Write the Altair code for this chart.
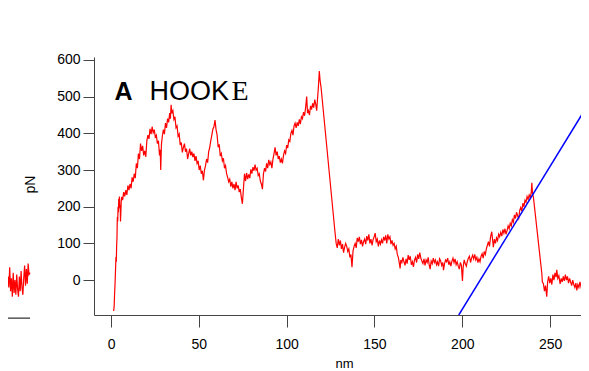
import altair as alt
import pandas as pd

# ---- data ----
extension_nm = [
    1.5, 1.8, 2.0, 2.3, 2.5, 2.8, 3.0, 3.2, 3.4, 3.5, 3.6, 3.8, 4.0, 4.2, 4.4, 4.6, 4.8, 5.0, 5.2, 5.4, 5.6, 5.8, 6.1,
    6.6, 7.2, 7.8, 8.4, 9.0, 9.6, 10.2, 10.8, 11.4, 12.0, 12.6, 13.2, 13.8, 14.4, 15.0, 15.6, 16.2, 16.8, 17.4, 18.0,
    18.6, 19.2, 19.8, 20.4, 21.0, 21.6, 22.2, 22.8, 23.4, 24.0, 24.6, 25.2, 25.8, 26.4, 27.0, 27.6, 28.0, 28.3, 28.7,
    29.2, 29.8, 30.4, 31.0, 31.6, 32.2, 32.8, 33.4, 33.8, 34.2, 34.6, 35.2, 35.8, 36.4, 37.0, 37.6, 38.2, 38.8, 39.4,
    40.0, 40.6, 41.2, 41.8, 42.4, 43.0, 43.6, 44.2, 44.8, 45.4, 46.0, 46.6, 47.2, 47.8, 48.4, 49.0, 49.6, 50.2, 50.8,
    51.4, 52.0, 52.6, 53.2, 53.8, 54.4, 55.0, 55.6, 56.2, 56.8, 57.4, 58.0, 58.6, 59.2, 59.8, 60.4, 61.0, 61.6, 62.2,
    62.8, 63.4, 64.0, 64.6, 65.2, 65.8, 66.4, 67.0, 67.6, 68.2, 68.8, 69.4, 70.0, 70.6, 71.2, 71.8, 72.4, 73.0, 73.6,
    74.2, 74.8, 75.4, 76.0, 76.6, 77.2, 77.8, 78.4, 79.0, 79.6, 80.2, 80.8, 81.4, 82.0, 82.6, 83.2, 83.8, 84.4, 85.0,
    85.6, 86.2, 86.8, 87.4, 88.0, 88.6, 89.2, 89.8, 90.4, 91.0, 91.6, 92.2, 92.8, 93.4, 94.0, 94.6, 95.2, 95.8, 96.4,
    97.0, 97.6, 98.2, 98.8, 99.4, 100.0, 100.6, 101.2, 101.8, 102.4, 103.0, 103.6, 104.2, 104.8, 105.4, 106.0, 106.6,
    107.2, 107.8, 108.4, 109.0, 109.6, 110.2, 110.8, 111.4, 111.9, 112.4, 113.0, 113.6, 114.2, 114.8, 115.4, 116.0,
    116.6, 117.1, 117.6, 118.1, 118.6, 119.0, 119.6,
    127.6, 128.2, 128.8, 129.4, 130.0, 130.6, 131.2, 131.8, 132.4, 133.0, 133.6, 134.2, 134.8, 135.4, 136.0, 136.6,
    137.2, 137.8, 138.4, 139.0, 139.6, 140.2, 140.8, 141.4, 142.0, 142.6, 143.2, 143.8, 144.4, 145.0, 145.6, 146.2,
    146.8, 147.4, 148.0, 148.6, 149.2, 149.8, 150.4, 151.0, 151.6, 152.2, 152.8, 153.4, 154.0, 154.6, 155.2, 155.8,
    156.4, 157.0, 157.6, 158.2, 158.8, 159.4, 160.0, 160.6, 161.2, 161.8, 162.4, 163.0, 163.6, 164.2, 164.6, 165.0,
    165.6, 166.2, 166.8, 167.4, 168.0, 168.6, 169.2, 169.8, 170.4, 171.0, 171.6, 172.2, 172.8, 173.4, 174.0, 174.6,
    175.2, 175.8, 176.4, 177.0, 177.6, 178.2, 178.8, 179.4, 180.0, 180.6, 181.2, 181.7, 182.3, 182.9, 183.5, 184.1,
    184.7, 185.3, 185.9, 186.5, 187.1, 187.7, 188.3, 188.9, 189.3, 189.9, 190.5, 191.1, 191.7, 192.3, 192.9, 193.5,
    194.1, 194.7, 195.3, 195.9, 196.5, 197.1, 197.7, 198.3, 198.9, 199.5, 200.1, 200.5, 201.1, 201.7, 202.3, 202.9,
    203.5, 204.1, 204.7, 205.3, 205.9, 206.5, 207.1, 207.7, 208.3, 208.9, 209.5, 210.1, 210.7, 211.3, 211.9, 212.5,
    213.1, 213.7, 214.3, 214.9, 215.5, 216.1, 216.8, 217.3, 217.7, 218.3, 218.9, 219.5, 220.1, 220.7, 221.3, 221.9,
    222.5, 223.1, 223.7, 224.3, 224.9, 225.5, 226.1, 226.7, 227.3, 227.9, 228.5, 229.1, 229.7, 230.3, 230.9, 231.5,
    232.1, 232.7, 233.3, 233.9, 234.5, 235.1, 235.7, 236.3, 236.9, 237.5, 238.1, 238.7, 239.3, 239.6, 240.0, 240.5,
    245.3, 245.6, 246.2, 246.8, 247.4, 248.1, 248.6, 249.2, 249.8, 250.4, 251.0, 251.6, 252.2, 252.8, 253.4, 253.8,
    254.4, 255.0, 255.7, 256.3, 256.9, 257.5, 258.1, 258.7, 259.3, 259.9, 260.5, 261.1, 261.7, 262.3, 262.9, 263.5,
    264.1, 264.7, 265.2, 265.8, 266.4, 267.0, 267.6, 268.2, 268.8, 269.4, 270.0, 270.6, 271.2, 271.8, 272.4,
]
force_pN = [
    -84, -70, -40, -8, 20, 63, 50, 95, 117, 150, 172, 160, 200, 185, 222, 210, 228, 195, 205, 160, 185, 215, 227,
    218, 240, 228, 245, 232, 258, 245, 262, 250, 280, 268, 290, 278, 318, 305, 345, 330, 372, 352, 366,
    340, 352, 336, 380, 395, 385, 412, 398, 418, 402, 410, 390, 395, 372, 380, 340, 355, 300, 370,
    392, 410, 398, 428, 415, 440, 430, 455, 440, 478, 455, 462, 438, 445, 415, 420, 392, 398, 368,
    375, 348, 362, 372, 350, 358, 330, 345, 358, 340, 350, 335, 345, 325, 338, 318, 325, 300, 312,
    290, 298, 272, 300, 312, 330, 320, 350, 362, 380, 395, 412, 418, 436, 410, 395, 362, 370, 338,
    345, 325, 332, 305, 312, 290, 280, 268, 275, 255, 268, 250, 262, 245, 268, 250, 258, 240, 248,
    225, 208, 250, 290, 270, 292, 275, 288, 278, 302, 290, 308, 298, 315, 300, 305, 285, 290, 270,
    262, 248, 290, 305, 296, 318, 305, 328, 315, 322, 305, 330, 345, 362, 340, 350, 330, 338, 320,
    330, 318, 340, 352, 345, 368, 360, 382, 378, 400, 408, 395, 420, 428, 415, 430, 420,
    438, 425, 445, 440, 458, 448, 470, 500, 455, 462, 450, 475, 465, 482, 470, 492,
    478, 462, 495, 528, 570, 545, 525,
    127, 100, 88, 112, 95, 108, 85, 98, 75, 90, 100, 92, 78, 85, 62, 70,
    35, 80, 92, 100, 88, 115, 105, 118, 98, 110, 92, 105, 112, 98, 120, 108,
    125, 100, 112, 95, 110, 118, 128, 105, 112, 92, 108, 98, 110, 100, 118, 108,
    122, 100, 125, 112, 118, 98, 108, 95, 100, 85, 92, 70, 62, 45, 32, 55,
    48, 62, 50, 40, 58, 45, 68, 55, 65, 42, 50, 36, 55, 62, 48, 70,
    58, 75, 60, 52, 45, 58, 40, 55, 48, 62, 40, 30, 52, 45, 60, 48,
    55, 42, 50, 38, 58, 52, 40, 48, 27, 45, 55, 50, 60, 42, 50, 38,
    52, 60, 48, 58, 42, 50, 38, 30, 48, 40, -2, 35, 55, 45, 38, 52,
    60, 65, 48, 60, 68, 58, 70, 55, 62, 48, 58, 50, 65, 72, 60, 78,
    70, 85, 95, 105, 92, 118, 132, 108, 90, 112, 100, 115, 108, 125, 118, 130,
    120, 138, 128, 140, 125, 135, 148, 140, 155, 148, 165, 158, 178, 168, 185, 175,
    168, 190, 198, 188, 210, 200, 218, 212, 228, 220, 232, 225, 240, 265, 235, 226,
    18, -5, -10, -30, -15, -45, -5, 10, -8, 5, -12, 15, 0, 20, 8, 28,
    5, 12, -10, 5, -5, 10, -2, 15, 0, 10, -8, 5, -5, -15, 0, -12,
    -20, -8, -28, -12, -20, -5, -18, -10, -22, -5, 5, -10, 8, -15, -27,
]

fit_nm = [198.0, 272.2]
fit_pN = [-95, 483]

# fragment of the neighbouring panel seen at the far left
left_nm = [-58.7, -58.2, -57.7, -57.2, -56.7, -56.2, -55.7, -55.2, -54.7, -54.2, -53.7, -53.2, -52.7,
           -52.2, -51.7, -51.2, -50.7, -50.2, -49.7, -49.2, -48.7, -48.2, -47.7, -47.2, -46.7, -46.1]
left_pN = [10, -20, 35, -30, 5, -45, 20, -35, 0, -40, 15, -25, -45,
           10, -30, 25, -20, -40, 5, 40, -15, 30, -10, 45, 15, 20]
left_axis_nm = [-58.7, -46.1]
left_axis_pN = [-103.5]

x_ticks = [0, 50, 100, 150, 200, 250]
y_ticks = [0, 100, 200, 300, 400, 500, 600]
x_domain = [-9.7, 267.6]
y_domain = [-95, 608]
title_parts = ["A", "HOOK", "E"]

FONT = "Liberation Sans"
AX = "#444444"

xs = alt.Scale(domain=x_domain, nice=False, zero=False)
ys = alt.Scale(domain=y_domain, nice=False, zero=False)

main_df = pd.DataFrame({"x": extension_nm, "y": force_pN, "i": range(len(extension_nm))})
fit_df = pd.DataFrame({"x": fit_nm, "y": fit_pN})
left_df = pd.DataFrame({"x": left_nm, "y": left_pN, "i": range(len(left_nm))})
rule_df = pd.DataFrame({"x": [left_axis_nm[0]], "x2": [left_axis_nm[1]], "y": left_axis_pN})

main = alt.Chart(main_df).mark_line(color="#ff0000", strokeWidth=1.2, clip=True).encode(
    x=alt.X("x:Q", scale=xs, axis=alt.Axis(
        values=x_ticks, title="nm", tickSize=12, labelPadding=10, labelFontSize=14, labelFont=FONT,
        labelColor="#000000", domainColor=AX, tickColor=AX, grid=False,
        titleFont=FONT, titleFontSize=13, titleFontWeight="normal", titleColor="#000000",
        titleX=250, titleY=52, titleBaseline="alphabetic", titleAlign="center")),
    y=alt.Y("y:Q", scale=ys, axis=alt.Axis(
        values=y_ticks, title="pN", tickSize=11, labelPadding=3, labelFontSize=14, labelFont=FONT,
        labelColor="#000000", domainColor=AX, tickColor=AX, grid=False,
        titleFont=FONT, titleFontSize=14, titleFontWeight="normal", titleColor="#000000",
        titleX=-60, titleY=127, titleBaseline="alphabetic", titleAlign="center", titleAngle=270)),
    order="i:Q",
)

fit = alt.Chart(fit_df).mark_line(color="#0000ff", strokeWidth=1.5, clip=True).encode(
    x=alt.X("x:Q", scale=xs), y=alt.Y("y:Q", scale=ys))

left = alt.Chart(left_df).mark_line(color="#ff0000", strokeWidth=1.2, clip=False).encode(
    x=alt.X("x:Q", scale=xs), y=alt.Y("y:Q", scale=ys), order="i:Q")

left_rule = alt.Chart(rule_df).mark_rule(color="#000000", strokeWidth=1, clip=False).encode(
    x=alt.X("x:Q", scale=xs), x2="x2:Q", y=alt.Y("y:Q", scale=ys))

tA = alt.Chart(pd.DataFrame({"t": [title_parts[0]]})).mark_text(
    font=FONT, fontSize=25, fontWeight="bold", align="left", baseline="alphabetic", color="#000000"
).encode(text="t:N", x=alt.value(20.5), y=alt.value(42.5))

tB = alt.Chart(pd.DataFrame({"t": [title_parts[1]]})).mark_text(
    font=FONT, fontSize=27, fontWeight="normal", align="left", baseline="alphabetic", color="#000000"
).encode(text="t:N", x=alt.value(55.5), y=alt.value(42.5))

tC = alt.Chart(pd.DataFrame({"t": [title_parts[2]]})).mark_text(
    font="Liberation Serif", fontSize=28, fontWeight="normal", align="left", baseline="alphabetic", color="#000000"
).encode(text="t:N", x=alt.value(137.5), y=alt.value(42.5))

chart = alt.layer(left_rule, left, main, fit, tA, tB, tC).properties(
    width=487, height=258,
    autosize=alt.AutoSizeParams(type="none"),
    padding={"left": 86, "top": 49, "right": 0, "bottom": 55},
    background="#ffffff",
).configure_view(stroke=None)

chart.save("out.html", embed_options={"renderer": "svg", "actions": False})
